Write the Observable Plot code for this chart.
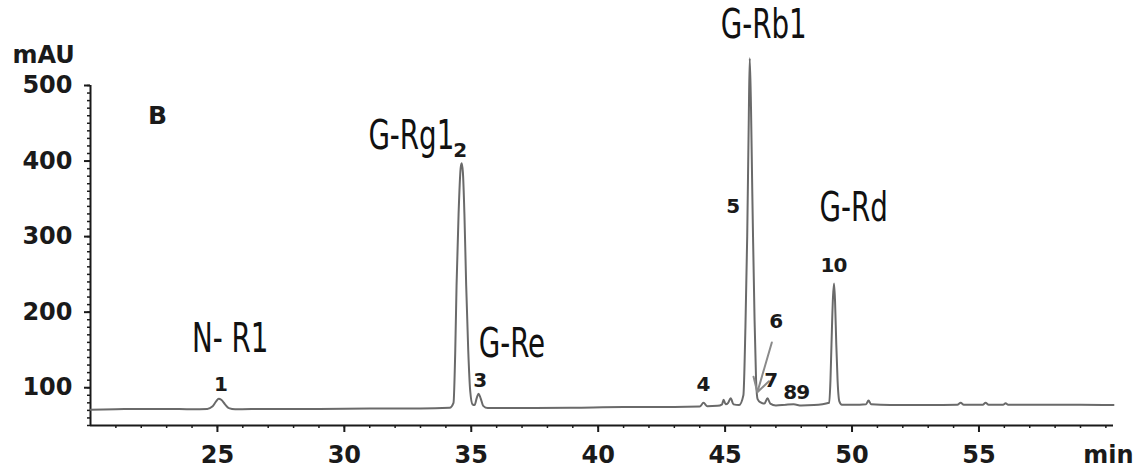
<!DOCTYPE html>
<html><head><meta charset="utf-8">
<script src="https://cdn.jsdelivr.net/npm/d3@7"></script>
<script src="https://cdn.jsdelivr.net/npm/@observablehq/plot@0.6"></script>
<style>body{margin:0;background:#fff}</style>
</head><body><div id="chart"></div>
<script>
// Chromatogram trace (retention time in min, absorbance in mAU)
const times = [20.0,21.0,22.0,23.0,24.0,24.6,24.8,24.95,25.05,25.15,25.3,25.45,25.7,27,29,31,33,
  34.15,34.3,34.37,34.42,34.5,34.58,34.62,34.67,34.73,34.8,34.88,34.96,35.05,35.13,35.22,35.29,35.37,35.47,35.65,
  37,39,41,43,44.0,44.15,44.3,44.7,44.88,44.94,45.02,45.12,45.22,45.33,45.55,
  45.72,45.8,45.87,45.93,45.97,46.02,46.07,46.1,46.16,46.22,46.28,46.4,46.55,46.67,46.78,47.0,47.4,47.7,48.0,48.5,
  49.1,49.15,49.19,49.25,49.29,49.33,49.38,49.43,49.5,49.6,50.3,50.55,50.65,50.75,51.5,53,
  54.15,54.28,54.4,55.15,55.26,55.38,55.95,56.05,56.15,57,58,59,60.3];
const mAU = [71,71.5,72,72,71.5,72,75,82,85.5,84,78,73,71.5,72,72,72.5,72.5,
  73.5,80,150,235,330,390,397,385,330,235,150,95,78,77,87,92,86,76,73,
  73,73.5,74.5,74.5,75,80,75.5,76,78,84,78,80,86,78,77,
  90,180,300,450,536,470,360,300,190,110,85,80.5,79,86,79,76.5,77.5,78,76.5,77,
  80,110,157,220,238,215,157,110,82,77.5,77.5,78,83,78,77,77,
  77.5,80,77.5,77.5,80,77.5,77.5,79.5,77.5,77.5,77.5,77.5,77];

// Peak numbers
const peakLabels = ["1","2","3","4","5","6","7","89","10"];
const peakLabelX = [25.12,34.54,35.33,44.13,45.3,46.99,46.8,47.8,49.27];
const peakLabelY = [96.3,406,100.3,96.3,330.6,179.7,100.3,85.7,253.8];

// Compound names
const compoundNames = ["N- R1","G-Rg1","G-Re","G-Rb1","G-Rd"];
const compoundX = [25.5,32.64,36.6,46.52,50.06];
const compoundY = [147,416.6,141.3,563.5,321.3];

// Arrow for peak 6
const arrow6 = {x1:46.84, y1:159.8, x2:46.27, y2:94};

// Panel letter
const panelLetter = "B";
const panelX = 22.64, panelY = 449.7;

// Axis ticks
const xTicks = [25,30,35,40,45,50,55];
const xMinorTicks = d3.range(21,61,1);
const yTicks = [100,200,300,400,500];
const yMinorTicks = d3.range(50,501,10);

const trace = times.map((t,i)=>({t, v:mAU[i]}));
const peaks = peakLabels.map((s,i)=>({s, x:peakLabelX[i], y:peakLabelY[i]}));
const names = compoundNames.map((s,i)=>({s, x:compoundX[i], y:compoundY[i]}));

const numFont = "DejaVu Sans";
const plot = Plot.plot({
  width:1138, height:470,
  marginLeft:90, marginRight:25, marginTop:85, marginBottom:45,
  x:{domain:[20,60.3], label:null},
  y:{domain:[50,500], label:null},
  style:{fontFamily:numFont, background:"#fff", color:"#1a1a1a"},
  marks:[
    Plot.axisX({ticks:xMinorTicks, tickSize:3, tickFormat:()=>"", strokeWidth:1.5}),
    Plot.axisX({ticks:xTicks, tickSize:7, tickPadding:13, fontSize:24, fontWeight:"bold", strokeWidth:2}),
    Plot.axisY({ticks:yMinorTicks, tickSize:3, tickFormat:()=>"", strokeWidth:1.5}),
    Plot.axisY({ticks:yTicks, tickSize:6, tickPadding:12, fontSize:24, fontWeight:"bold", strokeWidth:2}),
    Plot.ruleY([50], {stroke:"#1a1a1a", strokeWidth:2}),
    Plot.ruleX([20], {y1:50, y2:500, stroke:"#1a1a1a", strokeWidth:2}),
    Plot.line(trace, {x:"t", y:"v", stroke:"#6a6a6a", strokeWidth:2, curve:"monotone-x"}),
    Plot.arrow([arrow6], {x1:"x1", y1:"y1", x2:"x2", y2:"y2", stroke:"#8a8a8a", strokeWidth:2, headLength:12}),
    Plot.text(peaks, {x:"x", y:"y", text:"s", fontSize:20, fontWeight:"bold", lineAnchor:"bottom", fill:"#1a1a1a"}),
    Plot.text(names, {x:"x", y:"y", text:"s", fontSize:40, fontFamily:"DejaVu Sans Condensed, DejaVu Sans, sans-serif", lineAnchor:"bottom", fill:"#111"}),
    Plot.text([panelLetter], {x:()=>panelX, y:()=>panelY, text:d=>d, fontSize:25, fontWeight:"bold", lineAnchor:"bottom"}),
    Plot.text(["mAU"], {frameAnchor:"top-left", dx:-78, dy:-23, text:d=>d, textAnchor:"start", lineAnchor:"bottom", fontSize:24, fontWeight:"bold"}),
    Plot.text(["min"], {frameAnchor:"bottom-right", dx:20, dy:37, text:d=>d, textAnchor:"end", lineAnchor:"bottom", fontSize:24, fontWeight:"bold"})
  ]
});
// narrow, tall lettering for the compound names (as in the original figure)
d3.select(plot).selectAll("text").each(function(){
  if (compoundNames.includes(this.textContent)) {
    const x = +(this.getAttribute("x") || 0), y = +(this.getAttribute("y") || 0);
    const t = this.getAttribute("transform") || "";
    this.removeAttribute("x"); this.removeAttribute("y");
    this.setAttribute("transform", `${t} translate(${x},${y}) scale(0.77,1)`);
  } else if (peakLabels.includes(this.textContent)) {
    this.setAttribute("letter-spacing", "-1");
  }
});
document.getElementById("chart").appendChild(plot);
</script>
</body></html>
